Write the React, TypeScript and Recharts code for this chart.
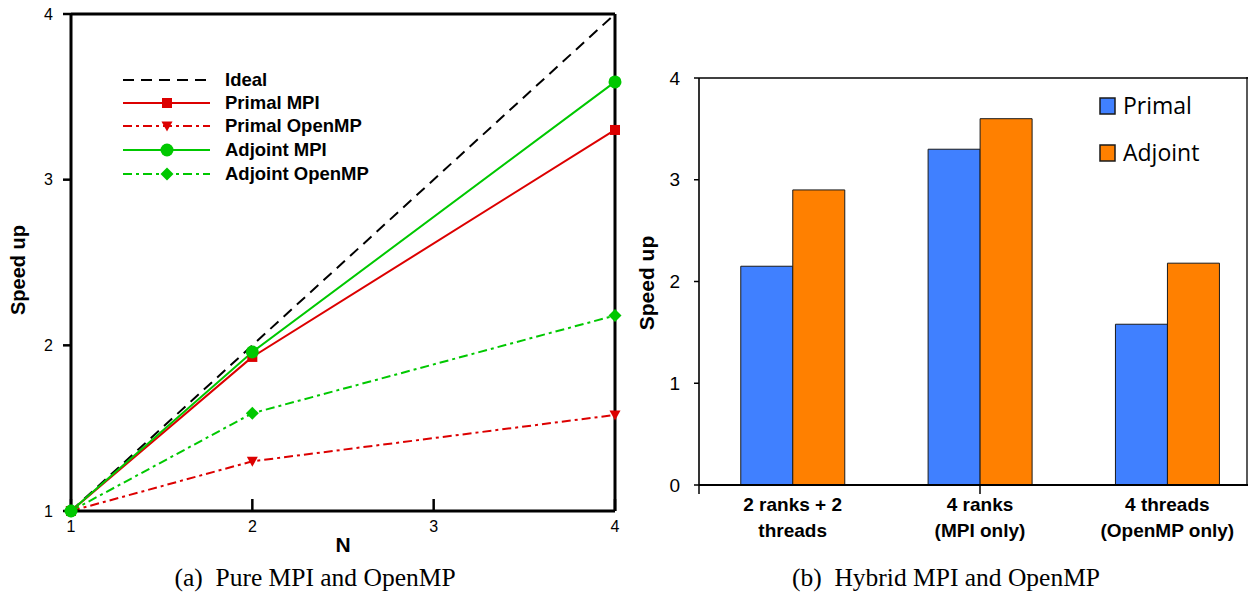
import React from 'react'
import { LineChart, Line, XAxis, YAxis, BarChart, Bar } from 'recharts'

// (a) pure MPI / OpenMP scaling
const nodeCounts = [1, 2, 4]
const idealSpeedup = [1, 2, 4]
const primalMpi = [1, 1.93, 3.3]
const primalOpenMp = [1, 1.3, 1.58]
const adjointMpi = [1, 1.96, 3.59]
const adjointOpenMp = [1, 1.59, 2.18]
const nTicks = [1, 2, 3, 4]
const speedTicksA = [1, 2, 3, 4]

// (b) hybrid runs
const hybridCases = ['2 ranks + 2\nthreads', '4 ranks\n(MPI only)', '4 threads\n(OpenMP only)']
const primalHybrid = [2.15, 3.3, 1.58]
const adjointHybrid = [2.9, 3.6, 2.18]
const speedTicksB = [0, 1, 2, 3, 4]
const caseBounds = [0, 1, 2, 3]

const RED = '#dc0000'
const GREEN = '#00c800'
const BLUE = '#4080ff'
const ORANGE = '#ff8000'
const SANS = '"Liberation Sans", Arial, sans-serif'
const DASH_DOT = '9 4 3 4'

type Shape = 'square' | 'triangle' | 'circle' | 'diamond' | null

const series: { key: string; name: string; color: string; dash?: string; marker: Shape }[] = [
  { key: 'ideal', name: 'Ideal', color: '#000', dash: '11 7', marker: null },
  { key: 'primalMpi', name: 'Primal MPI', color: RED, marker: 'square' },
  { key: 'primalOpenMp', name: 'Primal OpenMP', color: RED, dash: DASH_DOT, marker: 'triangle' },
  { key: 'adjointMpi', name: 'Adjoint MPI', color: GREEN, marker: 'circle' },
  { key: 'adjointOpenMp', name: 'Adjoint OpenMP', color: GREEN, dash: DASH_DOT, marker: 'diamond' },
]
// draw order so the green MPI markers sit on top
const drawOrder = ['ideal', 'primalOpenMp', 'adjointOpenMp', 'primalMpi', 'adjointMpi']

const lineData = nodeCounts.map((n, i) => ({
  n,
  ideal: idealSpeedup[i],
  primalMpi: primalMpi[i],
  primalOpenMp: primalOpenMp[i],
  adjointMpi: adjointMpi[i],
  adjointOpenMp: adjointOpenMp[i],
}))

const barData = hybridCases.map((label, i) => ({
  label,
  primal: primalHybrid[i],
  adjoint: adjointHybrid[i],
}))

function Marker({ shape, cx, cy, color }: { shape: Shape; cx: number; cy: number; color: string }) {
  if (shape === 'square') return <rect x={cx - 5} y={cy - 5} width={10} height={10} fill={color} />
  if (shape === 'triangle')
    return <path d={`M${cx - 5.5},${cy - 4.5} L${cx + 5.5},${cy - 4.5} L${cx},${cy + 5.5} Z`} fill={color} />
  if (shape === 'circle') return <circle cx={cx} cy={cy} r={6.5} fill={color} />
  if (shape === 'diamond')
    return <path d={`M${cx},${cy - 6.5} L${cx + 6.5},${cy} L${cx},${cy + 6.5} L${cx - 6.5},${cy} Z`} fill={color} />
  return null
}

const EmptyTick = () => <g />

function CaseTick({ x, y, payload }: any) {
  const lines = String(payload.value).split('\n')
  return (
    <text x={x} y={y + 18} textAnchor="middle" fontFamily={SANS} fontWeight="bold" fontSize={19} fill="#000">
      {lines.map((l, i) => (
        <tspan key={i} x={x} dy={i === 0 ? '0.35em' : 26}>
          {l}
        </tspan>
      ))}
    </text>
  )
}

function PureChart() {
  const tickStyle = { fontFamily: SANS, fontSize: 16, fill: '#000' }
  const frame = { stroke: '#000', strokeWidth: 3 }
  const tickLine = { stroke: '#000', strokeWidth: 2.5 }
  return (
    <LineChart width={640} height={603} data={lineData} margin={{ top: 13, right: 24, bottom: 52, left: 31 }}>
      <XAxis
        dataKey="n"
        type="number"
        domain={[1, 4]}
        ticks={nTicks}
        height={40}
        tickSize={-12}
        tickMargin={22}
        tick={tickStyle}
        axisLine={frame}
        tickLine={tickLine}
      />
      <XAxis
        xAxisId="top"
        orientation="top"
        type="number"
        domain={[1, 4]}
        ticks={nTicks}
        height={1}
        tick={EmptyTick}
        tickLine={false}
        axisLine={frame}
      />
      <YAxis
        type="number"
        domain={[1, 4]}
        ticks={speedTicksA}
        width={40}
        tickSize={8}
        tickMargin={10}
        tick={tickStyle}
        axisLine={frame}
        tickLine={tickLine}
      />
      <YAxis
        yAxisId="right"
        orientation="right"
        type="number"
        domain={[1, 4]}
        ticks={speedTicksA}
        width={1}
        tick={EmptyTick}
        tickLine={false}
        axisLine={frame}
      />
      {drawOrder.map((k) => {
        const s = series.find((d) => d.key === k)!
        return (
          <Line
            key={s.key}
            dataKey={s.key}
            name={s.name}
            type="linear"
            stroke={s.color}
            strokeWidth={2}
            strokeDasharray={s.dash}
            isAnimationActive={false}
            dot={
              s.marker
                ? (p: any) => <Marker key={`${s.key}-${p.index}`} shape={s.marker} cx={p.cx} cy={p.cy} color={s.color} />
                : false
            }
            activeDot={false}
          />
        )
      })}
    </LineChart>
  )
}

function HybridChart() {
  return (
    <BarChart
      width={634}
      height={603}
      data={barData}
      margin={{ top: 77, right: 1, bottom: 57, left: 31 }}
      barCategoryGap="22.3%"
      barGap={0}
    >
      <XAxis
        xAxisId="bounds"
        type="number"
        domain={[0, 3]}
        ticks={caseBounds}
        height={1}
        tickSize={9}
        tick={EmptyTick}
        axisLine={{ stroke: '#000', strokeWidth: 2.2 }}
        tickLine={{ stroke: '#000', strokeWidth: 1.5 }}
      />
      <XAxis
        xAxisId="cat"
        dataKey="label"
        height={60}
        tickSize={0}
        tickMargin={0}
        axisLine={false}
        tickLine={false}
        tick={<CaseTick />}
        interval={0}
      />
      <XAxis
        xAxisId="top"
        orientation="top"
        dataKey="label"
        height={1}
        tick={EmptyTick}
        tickLine={false}
        axisLine={{ stroke: '#000', strokeWidth: 1.3 }}
      />
      <YAxis
        type="number"
        domain={[0, 4]}
        ticks={speedTicksB}
        width={40}
        tickSize={5}
        tickMargin={14}
        tick={{ fontFamily: SANS, fontSize: 19, fill: '#000' }}
        axisLine={{ stroke: '#000', strokeWidth: 1.6 }}
        tickLine={{ stroke: '#000', strokeWidth: 1.5 }}
      />
      <Bar xAxisId="cat" dataKey="primal" name="Primal" fill={BLUE} stroke="#1a1a1a" strokeWidth={1} isAnimationActive={false} />
      <Bar xAxisId="cat" dataKey="adjoint" name="Adjoint" fill={ORANGE} stroke="#1a1a1a" strokeWidth={1} isAnimationActive={false} />
    </BarChart>
  )
}

const legendRows = [80, 103, 126, 150, 174]

export default function App() {
  return (
    <div style={{ position: 'absolute', left: 0, top: 0, width: 1248, height: 603, background: '#fff', overflow: 'hidden' }}>
      <div style={{ position: 'absolute', left: 0, top: 0 }}>
        <PureChart />
      </div>
      <div style={{ position: 'absolute', left: 628, top: 0 }}>
        <HybridChart />
      </div>
      <svg width={1248} height={603} style={{ position: 'absolute', left: 0, top: 0, pointerEvents: 'none' }}>
        {/* legend (a) */}
        {series.map((s, i) => (
          <g key={s.key}>
            <line x1={123} x2={210} y1={legendRows[i]} y2={legendRows[i]} stroke={s.color} strokeWidth={2} strokeDasharray={s.dash} />
            <Marker shape={s.marker} cx={167} cy={legendRows[i]} color={s.color} />
            <text x={225} y={legendRows[i]} dy="0.35em" fontFamily={SANS} fontWeight="bold" fontSize={18.5} fill="#000">
              {s.name}
            </text>
          </g>
        ))}
        {/* axis titles (a) */}
        <text x={18} y={270} transform="rotate(-90 18 270)" textAnchor="middle" dy="0.35em" fontFamily={SANS} fontWeight="bold" fontSize={20}>
          Speed up
        </text>
        <text x={343} y={545} textAnchor="middle" dy="0.35em" fontFamily={SANS} fontWeight="bold" fontSize={21}>
          N
        </text>
        {/* right border of panel (b) */}
        <line x1={1247} x2={1247} y1={77} y2={486} stroke="#000" strokeWidth={1.3} />
        {/* legend (b) */}
        {[
          { name: 'Primal', color: BLUE, y: 106 },
          { name: 'Adjoint', color: ORANGE, y: 153 },
        ].map((e) => (
          <g key={e.name}>
            <rect x={1100} y={e.y - 8} width={15} height={16} fill={e.color} stroke="#1a1a1a" strokeWidth={1.5} />
            <text x={1123} y={e.y} dy="0.35em" fontFamily='"Open Sans", sans-serif' fontSize={23} fill="#000">
              {e.name}
            </text>
          </g>
        ))}
        <text x={647} y={283} transform="rotate(-90 647 283)" textAnchor="middle" dy="0.35em" fontFamily={SANS} fontWeight="bold" fontSize={21}>
          Speed up
        </text>
        {/* captions */}
        <text x={315} y={586} textAnchor="middle" fontFamily='"Liberation Serif", serif' fontSize={25.5}>
          (a)&#8194;Pure MPI and OpenMP
        </text>
        <text x={946} y={586} textAnchor="middle" fontFamily='"Liberation Serif", serif' fontSize={25.5}>
          (b)&#8194;Hybrid MPI and OpenMP
        </text>
      </svg>
    </div>
  )
}
